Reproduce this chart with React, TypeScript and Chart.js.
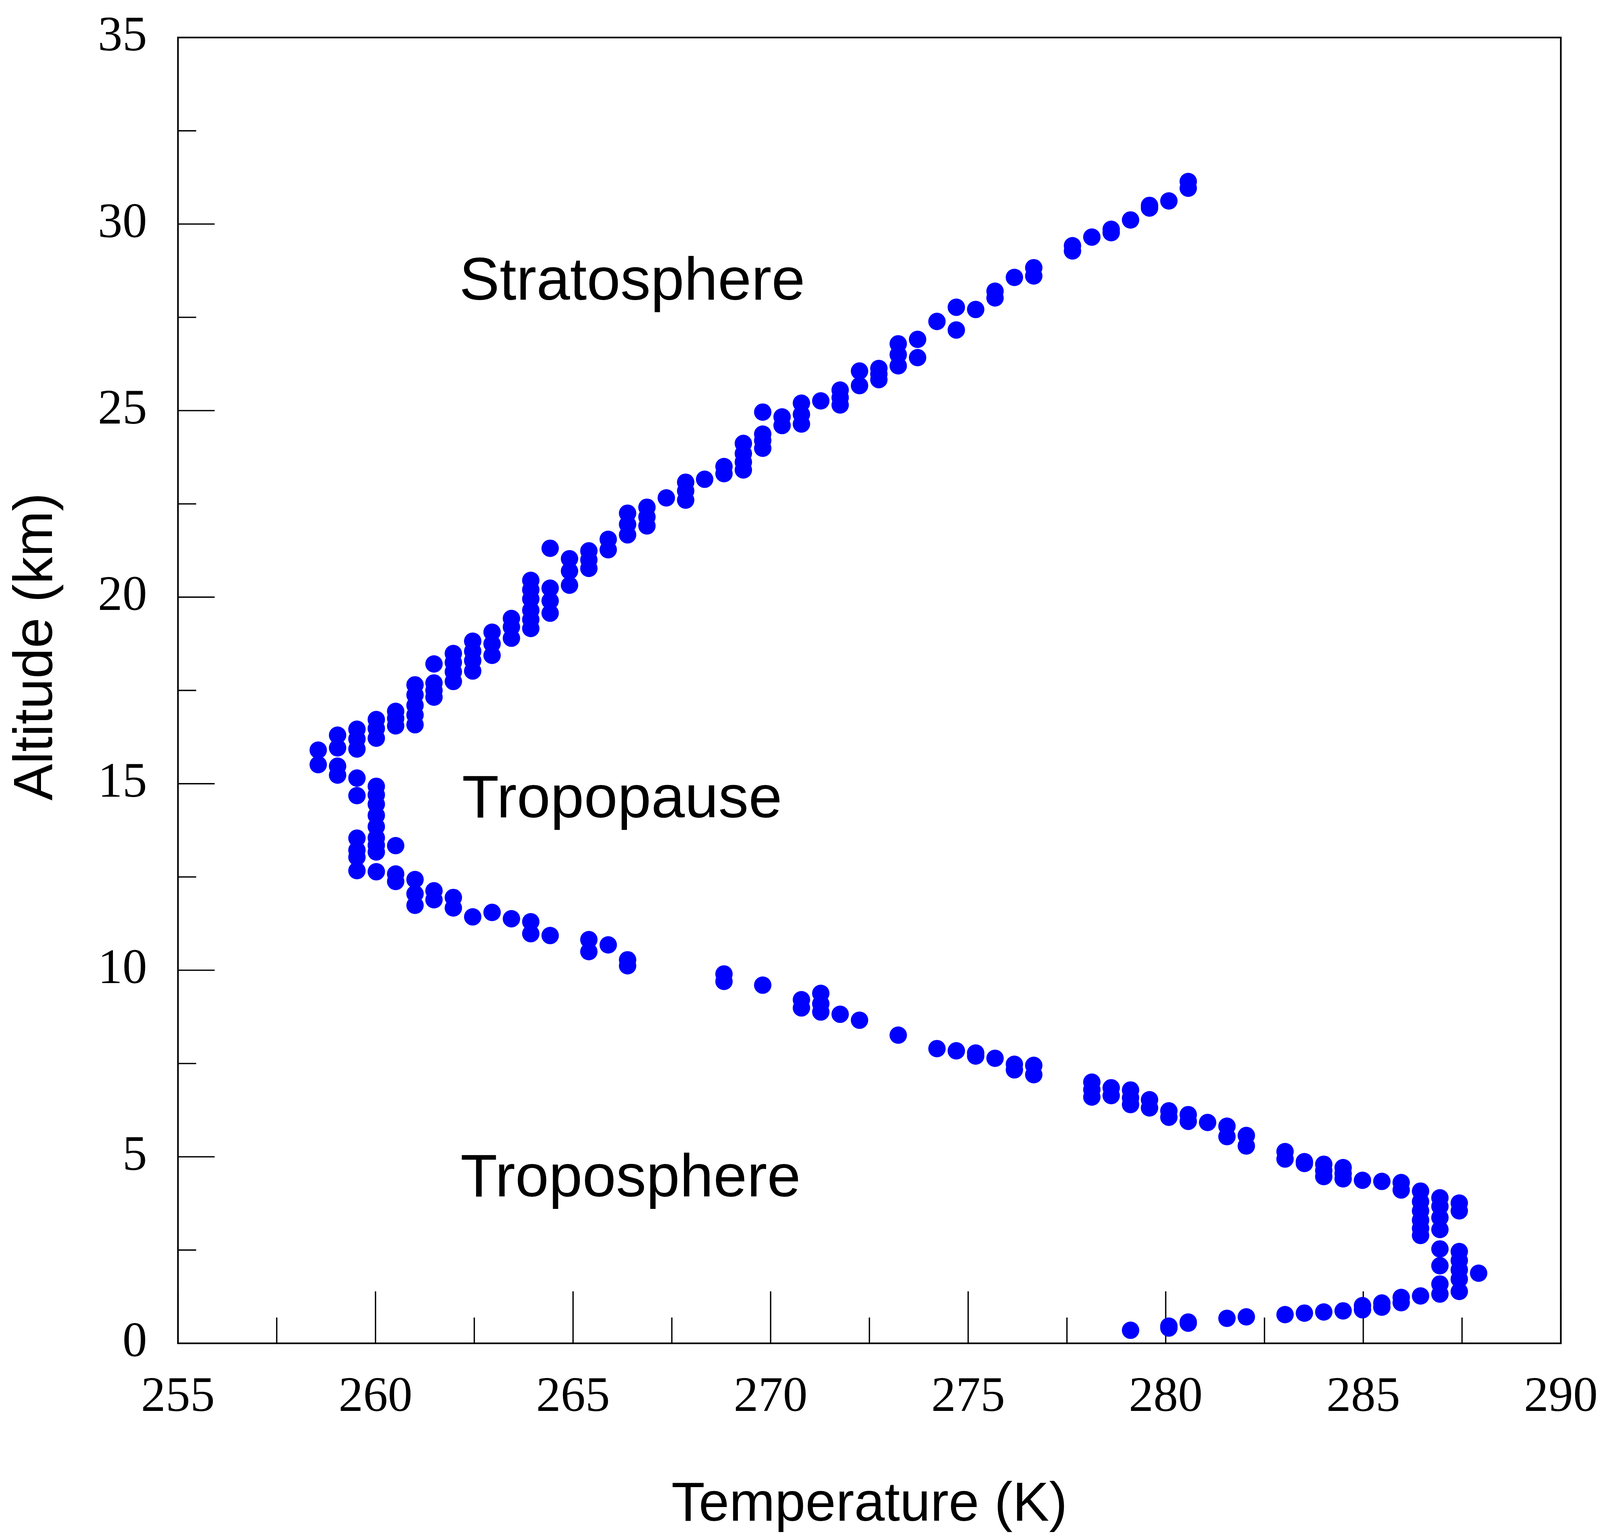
import { useEffect, useRef, useState } from 'react'
import { Chart, registerables } from 'chart.js'

Chart.register(...registerables)

// Rising branch: tropopause minimum up through the stratosphere
const UPPER_TEMP_K = [
  258.55, 258.55,
  259.04, 259.04, 259.04, 259.04,
  259.53, 259.53, 259.53,
  260.02, 260.02, 260.02,
  260.51, 260.51, 260.51,
  261.0, 261.0, 261.0, 261.0, 261.0,
  261.48, 261.48, 261.48, 261.48,
  261.97, 261.97, 261.97, 261.97,
  262.46, 262.46, 262.46, 262.46,
  262.95, 262.95, 262.95,
  263.44, 263.44, 263.44,
  263.93, 263.93, 263.93, 263.93, 263.93, 263.93,
  264.42, 264.42, 264.42, 264.42,
  264.91, 264.91, 264.91,
  265.4, 265.4, 265.4,
  265.89, 265.89,
  266.38, 266.38, 266.38,
  266.87, 266.87, 266.87,
  267.36,
  267.85, 267.85, 267.85,
  268.33,
  268.82, 268.82,
  269.31, 269.31, 269.31, 269.31,
  269.8, 269.8, 269.8, 269.8,
  270.29, 270.29,
  270.78, 270.78, 270.78,
  271.27,
  271.76, 271.76, 271.76,
  272.25, 272.25,
  272.74, 272.74, 272.74,
  273.23, 273.23, 273.23,
  273.72, 273.72,
  274.21,
  274.7, 274.7,
  275.19,
  275.68, 275.68,
  276.17,
  276.66, 276.66,
  277.64, 277.64,
  278.13,
  278.62, 278.62,
  279.11,
  279.59, 279.59,
  280.08,
  280.57, 280.57,
]

const UPPER_ALT_KM = [
  15.51, 15.9,
  15.23, 15.47, 15.96, 16.3,
  15.93, 16.2, 16.46,
  16.22, 16.48, 16.72,
  16.55, 16.75, 16.94,
  16.58, 16.84, 17.1, 17.38, 17.65,
  17.32, 17.5, 17.7, 18.21,
  17.74, 18.0, 18.25, 18.49,
  18.02, 18.3, 18.55, 18.82,
  18.44, 18.75, 19.06,
  18.9, 19.2, 19.43,
  19.16, 19.4, 19.65, 19.95, 20.2, 20.45,
  19.57, 19.9, 20.24, 21.31,
  20.32, 20.7, 21.03,
  20.77, 21.0, 21.24,
  21.27, 21.55,
  21.67, 21.95, 22.25,
  21.91, 22.15, 22.41,
  22.66,
  22.6, 22.85, 23.08,
  23.16,
  23.31, 23.5,
  23.41, 23.62, 23.85, 24.12,
  23.99, 24.2, 24.37, 24.96,
  24.6, 24.83,
  24.64, 24.9, 25.2,
  25.26,
  25.15, 25.35, 25.55,
  25.67, 26.06,
  25.83, 25.98, 26.13,
  26.2, 26.5, 26.79,
  26.42, 26.91,
  27.39,
  27.16, 27.77,
  27.71,
  28.02, 28.2,
  28.57,
  28.61, 28.83,
  29.28, 29.42,
  29.65,
  29.77, 29.86,
  30.11,
  30.43, 30.5,
  30.62,
  30.96, 31.14,
]

// Falling branch: tropopause down through the troposphere to the surface
const LOWER_TEMP_K = [
  259.53, 259.53, 259.53, 259.53, 259.53, 259.53,
  260.02, 260.02, 260.02, 260.02, 260.02, 260.02, 260.02, 260.02, 260.02,
  260.51, 260.51, 260.51,
  261.0, 261.0, 261.0,
  261.48, 261.48,
  261.97, 261.97,
  262.46,
  262.95,
  263.44,
  263.93, 263.93,
  264.42,
  265.4, 265.4,
  265.89,
  266.38, 266.38,
  268.82, 268.82,
  269.8,
  270.78, 270.78,
  271.27, 271.27, 271.27,
  271.76,
  272.25,
  273.23,
  274.21,
  274.7,
  275.19, 275.19,
  275.68,
  276.17, 276.17,
  276.66, 276.66,
  278.13, 278.13, 278.13,
  278.62, 278.62,
  279.11, 279.11, 279.11,
  279.59, 279.59,
  280.08, 280.08,
  280.57, 280.57,
  281.06,
  281.55, 281.55,
  282.04, 282.04,
  283.02, 283.02,
  283.51, 283.51,
  284.0, 284.0, 284.0,
  284.49, 284.49, 284.49,
  284.98,
  285.47,
  285.96, 285.96,
  286.45, 286.45, 286.45, 286.45, 286.45, 286.45,
  286.94, 286.94, 286.94, 286.94, 286.94, 286.94, 286.94, 286.94,
  287.43, 287.43, 287.43, 287.43, 287.43, 287.43, 287.43,
  287.92,
  286.45,
  285.96, 285.96,
  285.47, 285.47,
  284.98, 284.98,
  284.49,
  284.0,
  283.51,
  283.02,
  282.04,
  281.55,
  280.57, 280.57,
  280.08, 280.08,
  279.11,
]

const LOWER_ALT_KM = [
  15.15, 14.68, 13.54, 13.22, 13.03, 12.67,
  14.93, 14.7, 14.45, 14.15, 13.85, 13.55, 13.35, 13.17, 12.64,
  13.34, 12.58, 12.38,
  12.43, 12.05, 11.74,
  12.13, 11.89,
  11.95, 11.67,
  11.43,
  11.55,
  11.38,
  11.3, 10.98,
  10.93,
  10.82, 10.5,
  10.68,
  10.28, 10.12,
  9.9, 9.7,
  9.6,
  9.21, 8.99,
  9.38, 9.1, 8.88,
  8.82,
  8.66,
  8.26,
  7.9,
  7.84,
  7.78, 7.7,
  7.64,
  7.48, 7.33,
  7.45, 7.2,
  7.0, 6.8, 6.6,
  6.85, 6.64,
  6.79, 6.58, 6.4,
  6.53, 6.31,
  6.23, 6.06,
  6.13, 5.95,
  5.92,
  5.82, 5.54,
  5.57, 5.29,
  5.14, 4.94,
  4.87, 4.82,
  4.8, 4.63, 4.47,
  4.71, 4.55, 4.41,
  4.37,
  4.34,
  4.31, 4.11,
  4.08, 3.8, 3.55, 3.3, 3.08, 2.89,
  3.9, 3.67, 3.37, 3.05, 2.53, 2.08, 1.59, 1.32,
  3.76, 3.55, 2.46, 2.22, 1.97, 1.72, 1.39,
  1.88,
  1.27,
  1.23, 1.09,
  1.08, 0.97,
  1.01, 0.9,
  0.87,
  0.84,
  0.81,
  0.77,
  0.71,
  0.67,
  0.57, 0.54,
  0.46, 0.41,
  0.35,
]

const REGION_LABELS = [
  { text: 'Stratosphere', temp: 262.12, alt: 27.97 },
  { text: 'Tropopause', temp: 262.19, alt: 14.1 },
  { text: 'Troposphere', temp: 262.15, alt: 3.94 },
]

const X_TITLE = 'Temperature (K)'
const Y_TITLE = 'Altitude (km)'

const DOT_BLUE = '#0000ff'
const SANS = '"Liberation Sans", Arial, sans-serif'
const SERIF = '"Liberation Serif", "Times New Roman", serif'

// the figure was laid out on this canvas size; everything scales from it
const BASE_W = 5799
const BASE_H = 3926

function toPoints(xs: number[], ys: number[]) {
  return xs.map((x, i) => ({ x, y: ys[i] }))
}

// fixed axis box sizes, and no extra label overflow padding from chart.js
function fixAxisBox(size: number, horizontal: boolean) {
  return (scale: any) => {
    if (horizontal) scale.height = size
    else scale.width = size
    scale.paddingTop = 0
    scale.paddingBottom = 0
    scale.paddingLeft = 0
    scale.paddingRight = 0
  }
}

// inward ticks (major on labelled values, minor halfway between), frame, labels, titles
function makeDecor(sx: number, sy: number, ts: number) {
  return {
    id: 'axisDecor',
    beforeDatasetsDraw(chart: any) {
      const { ctx, chartArea } = chart
      const xScale = chart.scales.x
      const yScale = chart.scales.y
      ctx.save()
      ctx.strokeStyle = '#000'
      ctx.lineWidth = 4 * ts
      ctx.beginPath()
      const xt = xScale.ticks.map((t: any) => t.value)
      xt.forEach((v: number, i: number) => {
        const px = xScale.getPixelForValue(v)
        ctx.moveTo(px, chartArea.bottom)
        ctx.lineTo(px, chartArea.bottom - 133 * sy)
        if (i < xt.length - 1) {
          const mx = xScale.getPixelForValue((v + xt[i + 1]) / 2)
          ctx.moveTo(mx, chartArea.bottom)
          ctx.lineTo(mx, chartArea.bottom - 66 * sy)
        }
      })
      const yt = yScale.ticks.map((t: any) => t.value)
      yt.forEach((v: number, i: number) => {
        const py = yScale.getPixelForValue(v)
        ctx.moveTo(chartArea.left, py)
        ctx.lineTo(chartArea.left + 133 * sx, py)
        if (i < yt.length - 1) {
          const my = yScale.getPixelForValue((v + yt[i + 1]) / 2)
          ctx.moveTo(chartArea.left, my)
          ctx.lineTo(chartArea.left + 66 * sx, my)
        }
      })
      ctx.stroke()
      ctx.restore()
    },
    afterDraw(chart: any) {
      const { ctx, chartArea } = chart
      const xScale = chart.scales.x
      const yScale = chart.scales.y
      ctx.save()
      ctx.strokeStyle = '#000'
      ctx.lineWidth = 5 * ts
      ctx.strokeRect(chartArea.left, chartArea.top, chartArea.right - chartArea.left, chartArea.bottom - chartArea.top)

      ctx.fillStyle = '#000'
      ctx.font = `${184 * ts}px ${SANS}`
      ctx.textAlign = 'left'
      ctx.textBaseline = 'alphabetic'
      REGION_LABELS.forEach((lab) => {
        ctx.fillText(lab.text, xScale.getPixelForValue(lab.temp), yScale.getPixelForValue(lab.alt))
      })

      ctx.font = `${167 * ts}px ${SANS}`
      ctx.textAlign = 'center'
      ctx.fillText(X_TITLE, (chartArea.left + chartArea.right) / 2, chartArea.bottom + 454 * sy)

      ctx.translate(chartArea.left - 457 * sx, (chartArea.top + chartArea.bottom) / 2 - 112 * sy)
      ctx.rotate(-Math.PI / 2)
      ctx.fillText(Y_TITLE, 0, 0)
      ctx.restore()
    },
  }
}

export default function App() {
  const canvasRef = useRef<HTMLCanvasElement>(null)
  const [size] = useState(() => ({
    w: window.innerWidth || BASE_W,
    h: window.innerHeight || BASE_H,
  }))

  useEffect(() => {
    if (!canvasRef.current) return
    const sx = size.w / BASE_W
    const sy = size.h / BASE_H
    const ts = Math.sqrt(sx * sy)
    const tickFont = 150 * ts
    const dotRadius = 26.5 * ts

    const chart = new Chart(canvasRef.current, {
      type: 'scatter',
      data: {
        datasets: [
          {
            label: 'Upper',
            data: toPoints(UPPER_TEMP_K, UPPER_ALT_KM),
            backgroundColor: DOT_BLUE,
            borderWidth: 0,
            pointRadius: dotRadius,
            pointHoverRadius: dotRadius,
          },
          {
            label: 'Lower',
            data: toPoints(LOWER_TEMP_K, LOWER_ALT_KM),
            backgroundColor: DOT_BLUE,
            borderWidth: 0,
            pointRadius: dotRadius,
            pointHoverRadius: dotRadius,
          },
        ],
      },
      options: {
        animation: false,
        responsive: true,
        maintainAspectRatio: false,
        devicePixelRatio: 1,
        events: [],
        layout: { padding: { left: 0, top: 96 * sy, right: 142 * sx, bottom: 0 } },
        plugins: {
          legend: { display: false },
          tooltip: { enabled: false },
        },
        scales: {
          x: {
            type: 'linear',
            min: 255,
            max: 290,
            grid: { display: false, drawTicks: false },
            border: { display: false },
            ticks: {
              stepSize: 5,
              color: '#000',
              padding: Math.max(0, 140 * sy - 0.6 * tickFont),
              font: { family: SERIF, size: tickFont },
            },
            afterFit: fixAxisBox(488 * sy, true),
          },
          y: {
            type: 'linear',
            min: 0,
            max: 35,
            grid: { display: false, drawTicks: false },
            border: { display: false },
            ticks: {
              stepSize: 5,
              color: '#000',
              padding: 112 * sx,
              font: { family: SERIF, size: tickFont },
            },
            afterFit: fixAxisBox(645 * sx, false),
          },
        },
      },
      plugins: [makeDecor(sx, sy, ts)],
    })
    return () => chart.destroy()
  }, [size])

  return (
    <div style={{ position: 'absolute', left: 0, top: 0, width: size.w, height: size.h, background: '#fff' }}>
      <canvas ref={canvasRef}></canvas>
    </div>
  )
}
